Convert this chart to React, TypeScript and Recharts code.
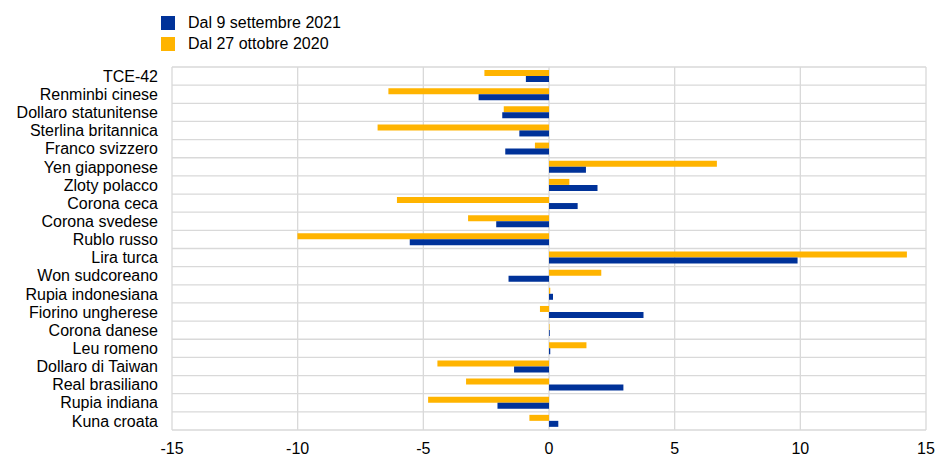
import { BarChart, Bar, XAxis, YAxis, CartesianGrid } from 'recharts';

const valute = [
  'TCE-42', 'Renminbi cinese', 'Dollaro statunitense', 'Sterlina britannica', 'Franco svizzero',
  'Yen giapponese', 'Zloty polacco', 'Corona ceca', 'Corona svedese', 'Rublo russo',
  'Lira turca', 'Won sudcoreano', 'Rupia indonesiana', 'Fiorino ungherese', 'Corona danese',
  'Leu romeno', 'Dollaro di Taiwan', 'Real brasiliano', 'Rupia indiana', 'Kuna croata',
];

// variazioni dal 9 settembre 2021
const dal2021 = [
  -0.92, -2.8, -1.86, -1.18, -1.74,
  1.47, 1.93, 1.14, -2.1, -5.54,
  9.89, -1.61, 0.16, 3.76, 0.03,
  0.05, -1.39, 2.96, -2.05, 0.37,
];

// variazioni dal 27 ottobre 2020
const dal2020 = [
  -2.57, -6.39, -1.8, -6.82, -0.56,
  6.68, 0.81, -6.05, -3.22, -10.01,
  14.24, 2.08, 0.05, -0.36, 0.02,
  1.49, -4.44, -3.3, -4.81, -0.78,
];

const xTicks = [-15, -10, -5, 0, 5, 10, 15];

const BLU = '#003299';
const GIALLO = '#FFB400';
const FONT = '"Liberation Sans", Arial, sans-serif';

const data = valute.map((name, i) => ({ name, a2021: dal2021[i], a2020: dal2020[i] }));

function LegendBox() {
  const items = [
    { label: 'Dal 9 settembre 2021', color: BLU },
    { label: 'Dal 27 ottobre 2020', color: GIALLO },
  ];
  return (
    <div style={{ position: 'absolute', left: 161, top: 12, fontFamily: FONT, fontSize: 16, color: '#000' }}>
      {items.map((it) => (
        <div key={it.label} style={{ display: 'flex', alignItems: 'center', height: 21 }}>
          <span style={{ width: 14, height: 14, background: it.color, display: 'inline-block', marginRight: 13 }} />
          <span>{it.label}</span>
        </div>
      ))}
    </div>
  );
}

export default function App() {
  const n = valute.length;
  return (
    <div style={{ position: 'absolute', left: 0, top: 0, width: 936, height: 457, background: '#fff' }}>
      <BarChart
        width={936}
        height={457}
        data={data}
        layout="vertical"
        margin={{ top: 67, right: 10, bottom: 0, left: 0 }}
        barSize={6}
        barGap={0}
      >
        <CartesianGrid
          stroke="#d9d9d9"
          strokeWidth={1.3}
          horizontalCoordinatesGenerator={({ offset }: any) =>
            Array.from({ length: n + 1 }, (_, i) => offset.top + (i * offset.height) / n)
          }
        />
        <XAxis
          type="number"
          domain={[-15, 15]}
          ticks={xTicks}
          height={27}
          axisLine={false}
          tickLine={false}
          tickMargin={7}
          tick={{ fill: '#000', fontSize: 16, fontFamily: FONT }}
        />
        <YAxis
          type="category"
          dataKey="name"
          width={172}
          axisLine={false}
          tickLine={false}
          tickMargin={8}
          interval={0}
          tick={{ fill: '#000', fontSize: 16, fontFamily: FONT }}
        />
        <Bar dataKey="a2020" name="Dal 27 ottobre 2020" fill={GIALLO} isAnimationActive={false} />
        <Bar dataKey="a2021" name="Dal 9 settembre 2021" fill={BLU} isAnimationActive={false} />
      </BarChart>
      <LegendBox />
    </div>
  );
}
